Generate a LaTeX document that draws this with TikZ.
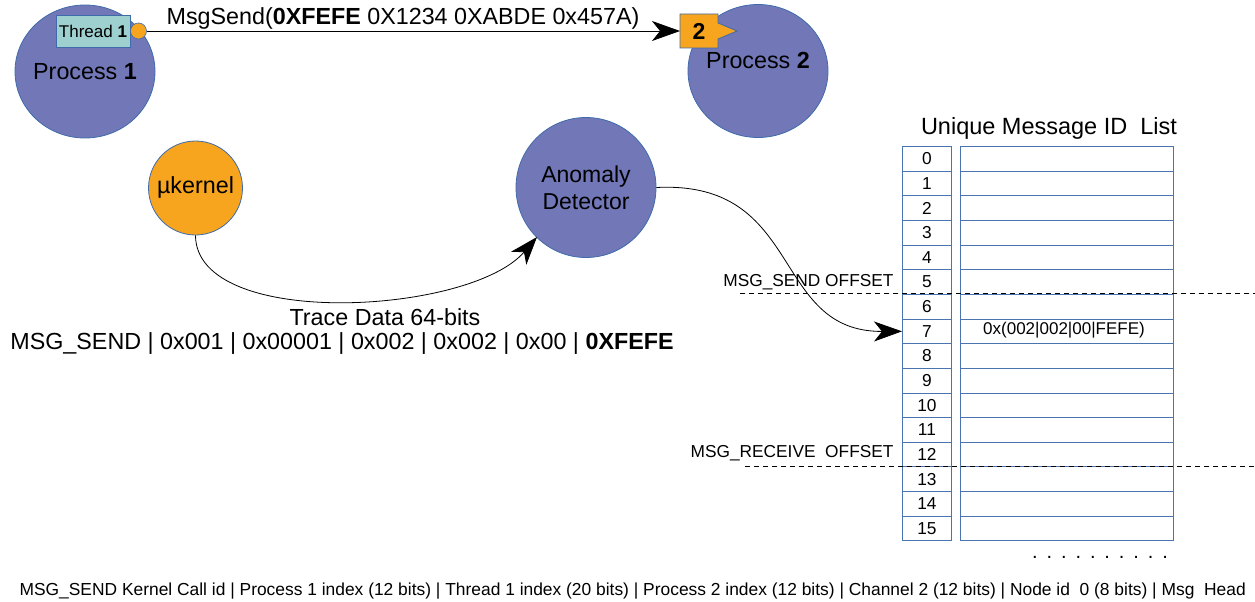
\documentclass[tikz,border=0pt]{standalone}
\usepackage{fontspec}
\setmainfont{Liberation Sans}
\usetikzlibrary{arrows.meta,shapes.geometric}
\definecolor{procblue}{HTML}{7177B7}
\definecolor{edgeblue}{HTML}{3F6BAA}
\definecolor{korange}{HTML}{F7A51E}
\definecolor{teal1}{HTML}{9DD0CF}
\definecolor{tabblue}{HTML}{4A74B0}
\newcommand{\fs}[1]{\fontsize{#1}{#1}\selectfont}
\tikzset{
  proc/.style={ellipse, draw=edgeblue, line width=0.8pt, fill=procblue, minimum width=140pt, minimum height=133pt, inner sep=0pt},
  kern/.style={circle, draw=edgeblue, line width=0.8pt, fill=korange, minimum size=94pt, inner sep=0pt},
  big/.style={font=\fs{23.3}},
  mid/.style={font=\fs{17.3}},
  idxcell/.style={draw=tabblue, line width=0.9pt, minimum width=49pt, minimum height=24.65pt, inner sep=0pt, font=\fs{17.3}, anchor=north west},
  valcell/.style={draw=tabblue, line width=0.9pt, minimum width=213pt, minimum height=24.65pt, inner sep=0pt, font=\fs{17}, anchor=north west},
  bigarrow/.style={-{Stealth[length=28pt,width=20pt,inset=8pt]}, line width=0.8pt},
  offline/.style={dashed, dash pattern=on 5pt off 4pt, line width=0.8pt}
}
\begin{document}
\begin{tikzpicture}[x=1pt,y=-1pt]
\useasboundingbox (0,0) rectangle (1255,602);
% processes
\node[proc] (p1) at (85,71.5) {};
\node[big] (p1t) at (85,72) {Process \textbf{1}};
\node[proc] (p2) at (758,71) {};
\node[big] (p2t) at (758,60) {Process \textbf{2}};
% thread box and port
\node[draw=edgeblue, line width=0.8pt, fill=teal1, minimum width=74pt, minimum height=32pt, inner sep=0pt, font=\fs{17}] (th) at (93,31) {Thread \textbf{1}};
\node[circle, draw=edgeblue, line width=0.6pt, fill=korange, minimum size=16pt, inner sep=0pt] (port) at (138.5,31) {};
% channel callout
\draw[draw=edgeblue, line width=0.8pt, fill=korange] (680,14) -- (718,14) -- (718,23) -- (737,31) -- (718,39) -- (718,48) -- (680,48) -- cycle;
\coordinate (ch) at (680,31);
\node[font=\fs{23}\bfseries] (cht) at (699,31) {2};
% message send
\draw[bigarrow] (port) -- (ch);
\node[big] (msg) at (403,18) {MsgSend(\textbf{0XFEFE} 0X1234 0XABDE 0x457A)};
% kernel and detector
\node[kern] (k) at (195.5,188) {};
\node[big] (kt) at (195.5,187) {µkernel};
\node[circle, draw=edgeblue, line width=0.8pt, fill=procblue, minimum size=140pt, inner sep=0pt] (ad) at (586,187.5) {};
\node[font=\fs{23}, align=center] (adt) at (586,187.5) {Anomaly\\[4pt]Detector};
\draw[bigarrow] (k.south) .. controls (196,330) and (470,315) .. (537,237);
\node[big] (td1) at (385,317) {Trace Data 64-bits};
\node[big] (td2) at (342,344) {MSG\_SEND | 0x001 | 0x00001 | 0x002 | 0x002 | 0x00 | \textbf{0XFEFE}};
% table
\node[font=\fs{23.5}] (tt) at (1049,128) {Unique Message ID\ \ List};
\foreach \k in {0,...,15} {
  \node[idxcell] (i\k) at (902,{146+24.65*\k}) {\k};
  \node[valcell] (v\k) at (959.5,{146+24.65*\k}) {};
}
\node[font=\fs{17}] (v7t) at (1064,330) {0x(002|002|00|FEFE)};
\draw[bigarrow] (ad.east) .. controls (805,180) and (770,332) .. (i7.west);
% offsets
\coordinate (s1) at (740,293);
\coordinate (s2) at (1255,293);
\draw[offline] (s1) -- (s2);
\node[mid, anchor=east] (so) at (897,282) {MSG\_SEND OFFSET};
\coordinate (r1) at (745,466);
\coordinate (r2) at (1255,466);
\draw[offline] (r1) -- (r2);
\node[mid, anchor=east] (ro) at (897,453) {MSG\_RECEIVE\ \ OFFSET};
\node[font=\fs{20}] (dots) at (1100,557) {.\ \,.\ \,.\ \,.\ \,.\ \,.\ \,.\ \,.\ \,.\ \,.};
% footer
\node[font=\fs{17.4}, anchor=west] (foot) at (16,591) {MSG\_SEND Kernel Call id | Process 1 index (12 bits) | Thread 1 index (20 bits) | Process 2 index (12 bits) | Channel 2 (12 bits) | Node id\ \ 0 (8 bits) | Msg\ \ Head};
\end{tikzpicture}
\end{document}
